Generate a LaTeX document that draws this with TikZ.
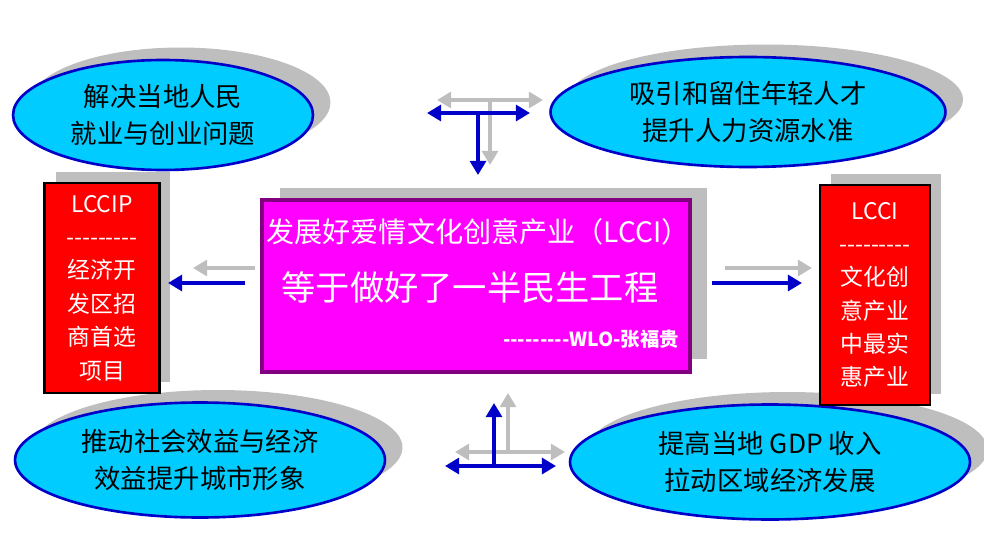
\documentclass[tikz,border=0pt]{standalone}
\usepackage{fontspec}
\setmainfont{Liberation Serif}
\newfontfamily\cjk{Noto Sans CJK SC}
\usetikzlibrary{shadows,arrows.meta,shapes.geometric}
\definecolor{ellCyan}{RGB}{0, 204, 255}
\definecolor{ellBlue}{RGB}{0, 0, 200}
\definecolor{boxRed}{RGB}{255, 0, 0}
\definecolor{boxMagenta}{RGB}{255, 0, 255}
\definecolor{boxPurple}{RGB}{128, 0, 128}
\definecolor{shadowGray}{RGB}{190, 190, 190}

\tikzset{
    goal/.style={ellipse, draw=ellBlue, line width=1.5pt, fill=ellCyan, align=center,
        font=\cjk\fontsize{15}{21}\selectfont,
        drop shadow={shadow xshift=0.35cm, shadow yshift=0.25cm, fill=shadowGray, opacity=1}},
    sidebox/.style={draw=black, line width=1.5pt, fill=boxRed, align=center, text=white,
        font=\cjk\fontsize{13}{19}\selectfont, minimum width=2.3cm,
        drop shadow={shadow xshift=0.22cm, shadow yshift=0.22cm, fill=shadowGray, opacity=1}},
    blueArrow/.style={draw=ellBlue, line width=2.2pt, -{Triangle[length=8pt,width=9pt]}},
    grayArrow/.style={draw=shadowGray, line width=2.2pt, -{Triangle[length=8pt,width=9pt]}},
    blueBoth/.style={blueArrow, {Triangle[length=8pt,width=9pt]}-{Triangle[length=8pt,width=9pt]}},
    grayBoth/.style={grayArrow, {Triangle[length=8pt,width=9pt]}-{Triangle[length=8pt,width=9pt]}}
}

\begin{document}
\begin{tikzpicture}[x=0.02cm, y=-0.02cm]
\useasboundingbox (0,0) rectangle (984,554);

% four goals
\node[goal, minimum width=6cm, minimum height=2.2cm] (jobs) at (163,115) {解决当地人民\\就业与创业问题};
\node[goal, minimum width=7.9cm, minimum height=2.2cm] (talent) at (748,112) {吸引和留住年轻人才\\提升人力资源水准};
\node[goal, minimum width=7.4cm, minimum height=2.3cm] (social) at (200,460) {推动社会效益与经济\\效益提升城市形象};
\node[goal, minimum width=8cm, minimum height=2.3cm] (gdp) at (770,462) {提高当地 GDP 收入\\拉动区域经济发展};

% side boxes
\node[sidebox, minimum height=4.2cm] (zone) at (102,288) {LCCIP\\---------\\经济开\\发区招\\商首选\\项目};
\node[sidebox, minimum width=2.2cm, minimum height=4.4cm] (industry) at (875,295) {LCCI\\---------\\文化创\\意产业\\中最实\\惠产业};

% centre
\node[draw=boxPurple, line width=2pt, fill=boxMagenta, minimum width=8.56cm, minimum height=3.44cm,
    drop shadow={shadow xshift=0.35cm, shadow yshift=0.25cm, fill=shadowGray, opacity=1}] (core) at (476,286) {};
\node[text=white, font=\cjk\fontsize{16}{20}\selectfont] (title) at (478,232) {发展好爱情文化创意产业（LCCI）};
\node[text=white, font=\cjk\fontsize{19.5}{24}\selectfont] (motto) at (470,287) {等于做好了一半民生工程};
\node[text=white, font=\cjk\bfseries\fontsize{11}{14}\selectfont, anchor=east] (sign) at (685,339) {---------WLO-张福贵};

% arrow anchors
\coordinate (tgL) at (437,100); \coordinate (tgR) at (543,100);
\coordinate (tgT) at (490,100); \coordinate (tgB) at (490,165);
\coordinate (tbL) at (427,113); \coordinate (tbR) at (530,113);
\coordinate (tbT) at (478,113); \coordinate (tbB) at (478,175);
\coordinate (bgL) at (455,452); \coordinate (bgR) at (565,452);
\coordinate (bgB) at (508,452); \coordinate (bgT) at (508,393);
\coordinate (bbL) at (445,466); \coordinate (bbR) at (556,466);
\coordinate (bbB) at (494,466); \coordinate (bbT) at (494,403);
\coordinate (lgS) at (255,268); \coordinate (lgE) at (193,268);
\coordinate (lbS) at (245,283); \coordinate (lbE) at (168,283);
\coordinate (rgS) at (725,268); \coordinate (rgE) at (812,268);
\coordinate (rbS) at (712,283); \coordinate (rbE) at (802,283);

% connectors
\draw[grayBoth] (tgL) -- (tgR);
\draw[grayArrow] (tgT) -- (tgB);
\draw[blueBoth] (tbL) -- (tbR);
\draw[blueArrow] (tbT) -- (tbB);
\draw[grayBoth] (bgL) -- (bgR);
\draw[grayArrow] (bgB) -- (bgT);
\draw[blueBoth] (bbL) -- (bbR);
\draw[blueArrow] (bbB) -- (bbT);
\draw[grayArrow] (lgS) -- (lgE);
\draw[blueArrow] (lbS) -- (lbE);
\draw[grayArrow] (rgS) -- (rgE);
\draw[blueArrow] (rbS) -- (rbE);
\end{tikzpicture}
\end{document}
